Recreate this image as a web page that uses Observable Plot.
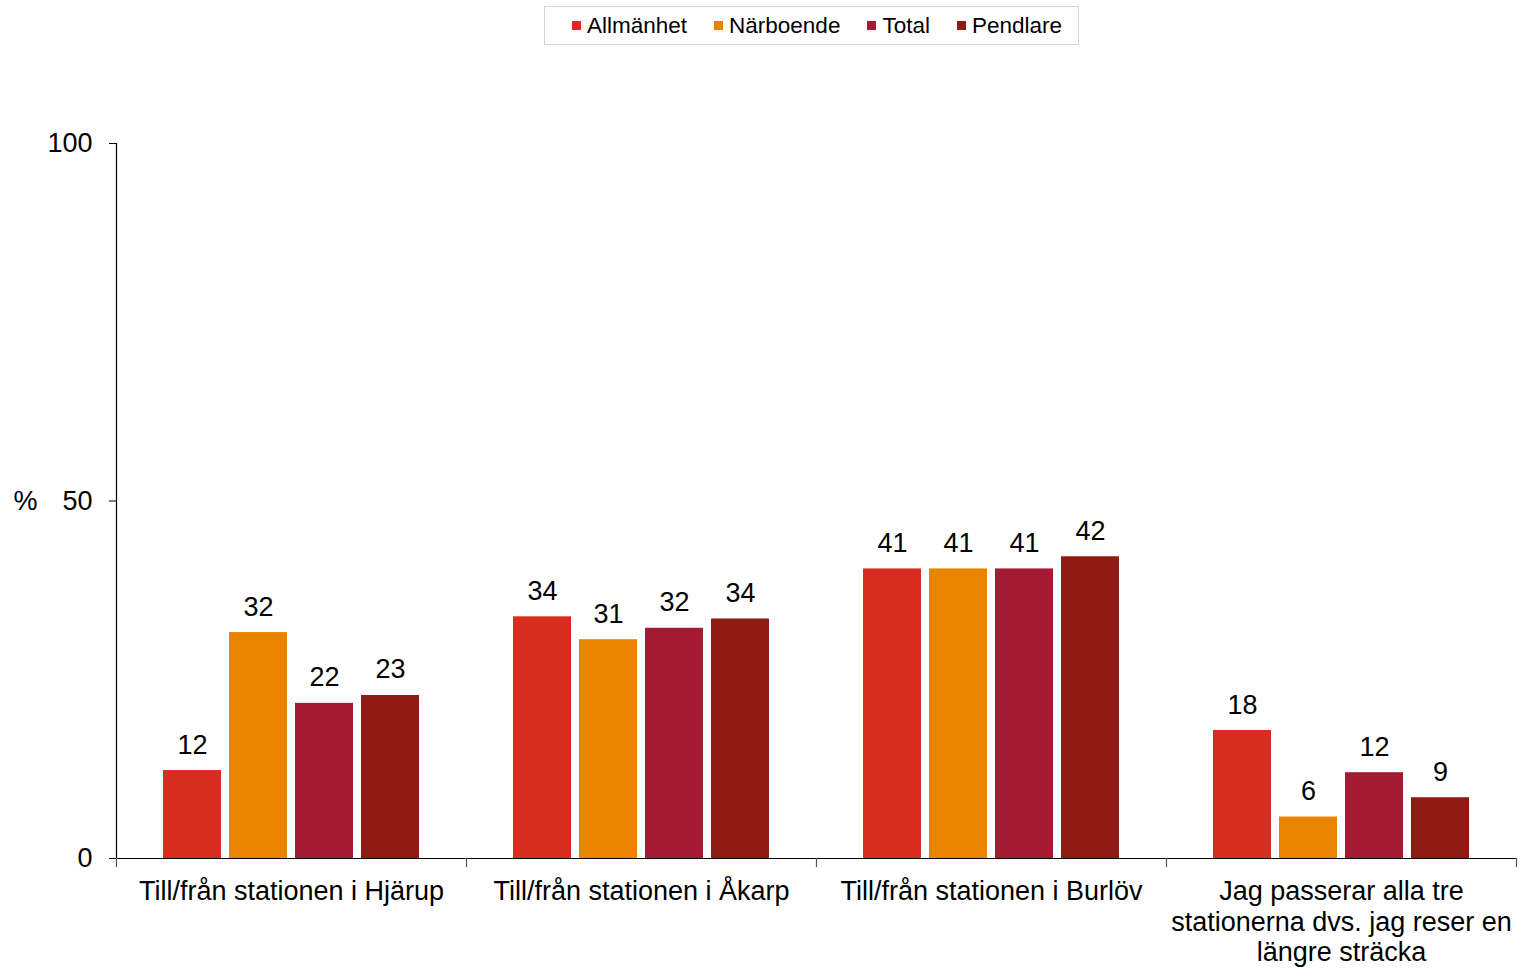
<!DOCTYPE html>
<html>
<head>
<meta charset="utf-8">
<script src="https://cdn.jsdelivr.net/npm/d3@7"></script>
<script src="https://cdn.jsdelivr.net/npm/@observablehq/plot@0.6"></script>
<style>
  body { margin: 0; background: #fff; font-family: "Liberation Sans", Arial, sans-serif; }
  #wrap { position: relative; width: 1521px; height: 968px; }
  #legend { position: absolute; left: 544px; top: 6px; width: 535px; height: 39px; box-sizing: border-box;
    border: 1px solid #d4d4d4; display: flex; align-items: center; padding-left: 27px; background: #fff; z-index: 2; }
  .item { display: flex; align-items: center; font-size: 22.5px; color: #000; margin-right: 27px; }
  .sw { width: 9px; height: 9px; margin-right: 6px; }
  #chart { position: absolute; left: 0; top: 0; }
</style>
</head>
<body>
<div id="wrap">
  <div id="legend"></div>
  <div id="chart"></div>
</div>
<script>
const categories = [
  "Till/från stationen i Hjärup",
  "Till/från stationen i Åkarp",
  "Till/från stationen i Burlöv",
  "Jag passerar alla tre stationerna dvs. jag reser en längre sträcka"
];
const categoryLabels = [
  "Till/från stationen i Hjärup",
  "Till/från stationen i Åkarp",
  "Till/från stationen i Burlöv",
  "Jag passerar alla tre\nstationerna dvs. jag reser en\nlängre sträcka"
];
const series = ["Allmänhet", "Närboende", "Total", "Pendlare"];
const colors = ["#d62d20", "#e98400", "#a51a33", "#8e1c14"];
const allmanhet = [12.3, 33.8, 40.5, 17.9];
const narboende = [31.6, 30.6, 40.5, 5.8];
const total = [21.7, 32.2, 40.5, 12.0];
const pendlare = [22.8, 33.5, 42.2, 8.5];
const yTicks = [0, 50, 100];
const yLabel = "%";

const seriesValues = [allmanhet, narboende, total, pendlare];
const data = [];
categories.forEach((c, i) => series.forEach((s, j) => data.push({category: c, series: s, value: seriesValues[j][i]})));

// legend
const legend = document.getElementById("legend");
series.forEach((s, j) => {
  const it = document.createElement("div");
  it.className = "item";
  it.innerHTML = `<span class="sw" style="background:${colors[j]}"></span><span>${s}</span>`;
  legend.appendChild(it);
});

const tickShape = {draw(ctx, l) { ctx.moveTo(0, 0); ctx.lineTo(0, -l); }};
const fmt = d3.format(".0f");
const FS = 27;

const chart = Plot.plot({
  width: 1521,
  height: 968,
  marginLeft: 115,
  marginRight: 4,
  marginTop: 143,
  marginBottom: 110,
  style: {fontFamily: '"Liberation Sans", Arial, sans-serif', fontSize: FS + "px", color: "#000", background: "#fff"},
  fx: {domain: categories, paddingInner: 0, paddingOuter: 0, label: null},
  x: {domain: series, paddingInner: 0.12, paddingOuter: 0.7, axis: null},
  y: {domain: [0, 100], axis: null},
  color: {domain: series, range: colors},
  marks: [
    Plot.barY(data, {fx: "category", x: "series", y: "value", fill: "series"}),
    Plot.text(data, {fx: "category", x: "series", y: "value", text: d => fmt(d.value), lineAnchor: "bottom", dy: -17, fontSize: FS, fill: "#000"}),
    Plot.ruleY([0], {stroke: "#000", strokeWidth: 1.2}),
    Plot.frame({anchor: "left", stroke: "#000", strokeWidth: 1.2, fx: () => categories[0]}),
    Plot.axisY({ticks: yTicks, tickSize: 7, tickPadding: 17, fontSize: FS, label: null, stroke: "#000"}),
    Plot.text([categories[0]], {fx: d => d, frameAnchor: "left", textAnchor: "middle", text: () => yLabel, dx: -91, fontSize: FS, fill: "#000"}),
    Plot.vector(categories, {fx: d => d, frameAnchor: "bottom-left", length: 8, rotate: 180, anchor: "start", shape: tickShape, stroke: "#555", strokeWidth: 1.2}),
    Plot.vector([categories[categories.length - 1]], {fx: d => d, frameAnchor: "bottom-right", length: 8, rotate: 180, anchor: "start", shape: tickShape, stroke: "#555", strokeWidth: 1.2}),
    Plot.axisFx({anchor: "bottom", tickSize: 0, tickPadding: 20, fontSize: FS, lineHeight: 1.13, label: null,
      tickFormat: c => categoryLabels[categories.indexOf(c)]})
  ]
});
document.getElementById("chart").appendChild(chart);
</script>
</body>
</html>
